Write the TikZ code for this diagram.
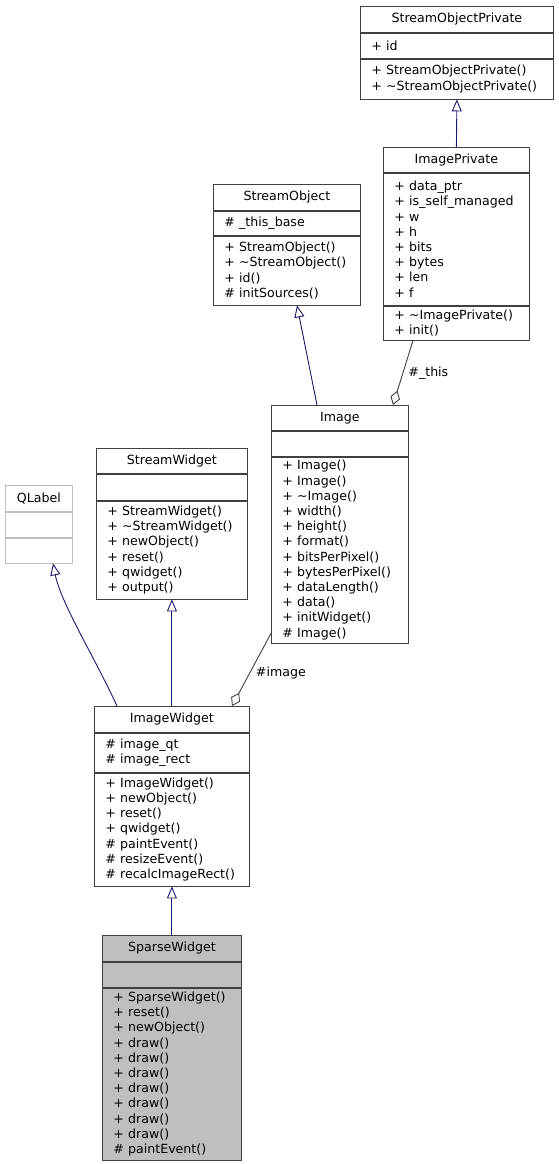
\documentclass[tikz,border=0pt]{standalone}
\usepackage{fontspec}
\setmainfont{DejaVu Sans}
\usetikzlibrary{arrows.meta,calc}

\definecolor{navy}{HTML}{191970}
\definecolor{edgegray}{HTML}{404040}
\definecolor{qgray}{HTML}{BFBFBF}

\begin{document}
\begin{tikzpicture}[x=1pt, y=-1pt,
    every node/.style={font=\fontsize{12.6}{15.2}\selectfont, inner xsep=11pt, inner ysep=0pt},
    sect/.style={draw=edgegray, line width=0.8pt, fill=white, anchor=north west, align=left, text width=#1},
    head/.style={sect=#1, align=center},
    inherit/.style={draw=navy, line width=0.9pt, -{Triangle[open, length=12pt, width=10pt]}},
    aggr/.style={draw=edgegray, line width=0.9pt, {Diamond[open, length=15pt, width=10pt]}-},
    lbl/.style={inner sep=2pt, anchor=west}]

    \useasboundingbox (0,0) rectangle (559,1164);

    % Nodes
    \node[head=171pt, minimum height=26pt] (sop) at (360,6) {StreamObjectPrivate};
    \node[sect=171pt, minimum height=25pt] (sopA) at (sop.south west) {+ id};
    \node[sect=171pt, minimum height=40pt] (sopM) at (sopA.south west) {+ StreamObjectPrivate()\\+ \textasciitilde StreamObjectPrivate()};

    \node[head=124pt, minimum height=25pt] (ipr) at (383,147) {ImagePrivate};
    \node[sect=124pt, minimum height=132pt] (iprA) at (ipr.south west) {+ data\_ptr\\+ is\_self\_managed\\+ w\\+ h\\+ bits\\+ bytes\\+ len\\+ f};
    \node[sect=124pt, minimum height=34pt] (iprM) at (iprA.south west) {+ \textasciitilde ImagePrivate()\\+ init()};

    \node[head=125pt, minimum height=26pt] (so) at (213,184) {StreamObject};
    \node[sect=125pt, minimum height=24pt] (soA) at (so.south west) {\# \_this\_base};
    \node[sect=125pt, minimum height=69pt] (soM) at (soA.south west) {+ StreamObject()\\+ \textasciitilde StreamObject()\\+ id()\\\# initSources()};

    \node[head=115pt, minimum height=25pt] (img) at (271,405) {Image};
    \node[sect=115pt, minimum height=25pt] (imgA) at (img.south west) {};
    \node[sect=115pt, minimum height=186pt] (imgM) at (imgA.south west) {+ Image()\\+ Image()\\+ \textasciitilde Image()\\+ width()\\+ height()\\+ format()\\+ bitsPerPixel()\\+ bytesPerPixel()\\+ dataLength()\\+ data()\\+ initWidget()\\\# Image()};

    \node[head=45pt, draw=qgray, minimum height=26pt] (ql) at (5,485) {QLabel};
    \node[sect=45pt, draw=qgray, minimum height=25pt] (qlA) at (ql.south west) {};
    \node[sect=45pt, draw=qgray, minimum height=25pt] (qlM) at (qlA.south west) {};

    \node[head=129pt, minimum height=25pt] (sw) at (96,448) {StreamWidget};
    \node[sect=129pt, minimum height=26pt] (swA) at (sw.south west) {};
    \node[sect=129pt, minimum height=98pt] (swM) at (swA.south west) {+ StreamWidget()\\+ \textasciitilde StreamWidget()\\+ newObject()\\+ reset()\\+ qwidget()\\+ output()};

    \node[head=133pt, minimum height=26pt] (iw) at (94,706) {ImageWidget};
    \node[sect=133pt, minimum height=39pt] (iwA) at (iw.south west) {\# image\_qt\\\# image\_rect};
    \node[sect=133pt, minimum height=113pt] (iwM) at (iwA.south west) {+ ImageWidget()\\+ newObject()\\+ reset()\\+ qwidget()\\\# paintEvent()\\\# resizeEvent()\\\# recalcImageRect()};

    \node[head=117pt, fill=qgray, minimum height=26pt] (spw) at (102,935) {SparseWidget};
    \node[sect=117pt, fill=qgray, minimum height=25pt] (spwA) at (spw.south west) {};
    \node[sect=117pt, fill=qgray, minimum height=172pt] (spwM) at (spwA.south west) {+ SparseWidget()\\+ reset()\\+ newObject()\\+ draw()\\+ draw()\\+ draw()\\+ draw()\\+ draw()\\+ draw()\\+ draw()\\\# paintEvent()};

    % Edges
    \draw[inherit] (ipr.north) -- (sopM.south);
    \draw[inherit] ($(img.north west)+(46,0)$) -- ($(soM.south west)+(84,0)$);
    \draw[aggr] ($(img.north west)+(122,0)$) -- ($(iprM.south west)+(30,0)$)
        node[lbl, midway, xshift=3pt] {\#\_this};
    \draw[inherit] ($(iw.north west)+(23,0)$) .. controls +(-22,-48) and +(8,40) .. ($(qlM.south west)+(48,0)$);
    \draw[inherit] (iw.north) -- (swM.south);
    \draw[aggr] ($(iw.north west)+(138,0)$) -- ($(imgM.south west)+(0,-10)$)
        node[lbl, midway, xshift=2pt, yshift=-3pt] {\#image};
    \draw[inherit] (spw.north) -- (iwM.south);

\end{tikzpicture}
\end{document}
